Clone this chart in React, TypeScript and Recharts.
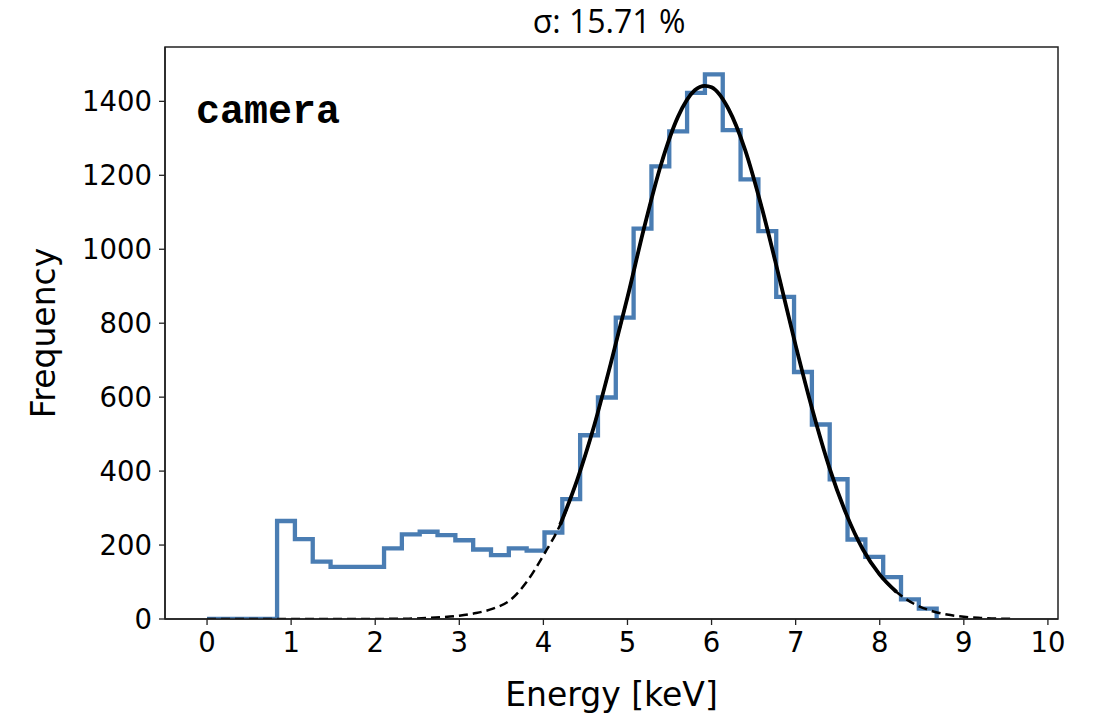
import { ComposedChart, Line, XAxis, YAxis, ReferenceArea } from "recharts";

// histogram: 37 bins starting at 0.833 keV, 0.212 keV wide
const binStart = 0.833;
const binWidth = 0.212;
const binCounts = [
  265, 216, 155, 141, 141, 141, 191, 229, 236, 227, 213, 188, 173, 191, 185,
  234, 324, 497, 599, 815, 1056, 1224, 1319, 1423, 1473, 1322, 1189, 1049,
  871, 668, 526, 378, 215, 168, 113, 53, 28,
];

// gaussian fit
const fitEnergy = [
  0, 0.5, 1.0, 1.5, 2.0, 2.4, 2.8, 3.0, 3.2, 3.4, 3.6, 3.8, 4.0, 4.2, 4.4,
  4.6, 4.8, 5.0, 5.2, 5.4, 5.6, 5.8, 5.92, 6.0, 6.2, 6.4, 6.6, 6.8, 7.0, 7.2,
  7.4, 7.6, 7.8, 8.0, 8.2, 8.4, 8.6, 8.8, 9.0, 9.2, 9.4, 9.6,
];
const fitFreq = [
  0, 0, 0, 0, 0.2, 1, 5, 9, 16, 28, 50, 100, 172, 255, 375, 520, 690, 870,
  1060, 1230, 1358, 1430, 1442, 1438, 1380, 1268, 1110, 928, 740, 565, 410,
  285, 188, 120, 73, 42, 23, 12, 6, 3, 1, 0.5,
];
const solidFrom = 4.2;
const solidTo = 8.2;

const xTicks = [0, 1, 2, 3, 4, 5, 6, 7, 8, 9, 10];
const yTicks = [0, 200, 400, 600, 800, 1000, 1200, 1400];

const histData = [
  { x: 0, y: 0 },
  ...binCounts.map((c, i) => ({ x: binStart + i * binWidth, y: c })),
  { x: binStart + binCounts.length * binWidth, y: 0 },
];
const fitData = fitEnergy.map((e, i) => ({ x: e, y: fitFreq[i] }));
const fitSolid = fitData.filter((d) => d.x >= solidFrom && d.x <= solidTo);

const xDomain = [-0.5, 10.12];
const yDomain = [0, 1547];
const font = "DejaVu Sans";
const spine = "#222";

export default function App() {
  return (
    <div style={{ position: "absolute", left: 0, top: 0, width: 1094, height: 719 }}>
      <ComposedChart
        width={1094}
        height={719}
        margin={{ top: 47, right: 36, bottom: 0, left: 0 }}
      >
        <XAxis
          dataKey="x"
          type="number"
          domain={xDomain}
          ticks={xTicks}
          allowDataOverflow
          height={100}
          tickSize={6}
          tickMargin={7}
          axisLine={{ stroke: spine, strokeWidth: 1.5 }}
          tickLine={{ stroke: spine, strokeWidth: 1.3 }}
          tick={{ fill: "#000", fontSize: 27.5, fontFamily: font }}
          label={{
            value: "Energy [keV]",
            position: "insideBottom",
            offset: 13,
            style: { fill: "#000", fontSize: 33, fontFamily: font },
          }}
        />
        <YAxis
          type="number"
          domain={yDomain}
          ticks={yTicks}
          allowDataOverflow
          width={165}
          tickSize={6}
          tickMargin={7}
          axisLine={{ stroke: spine, strokeWidth: 1.5 }}
          tickLine={{ stroke: spine, strokeWidth: 1.3 }}
          tick={{ fill: "#000", fontSize: 27.5, fontFamily: font }}
          label={{
            value: "Frequency",
            angle: -90,
            position: "insideLeft",
            offset: 43,
            style: { textAnchor: "middle", fill: "#000", fontSize: 33, fontFamily: font },
          }}
        />
        {/* frame around the plot area */}
        <ReferenceArea
          x1={xDomain[0]}
          x2={xDomain[1]}
          y1={yDomain[0]}
          y2={yDomain[1]}
          fill="none"
          fillOpacity={0}
          stroke={spine}
          strokeWidth={1.5}
          strokeOpacity={1}
          ifOverflow="visible"
        />
        <Line
          data={histData}
          dataKey="y"
          type="stepAfter"
          stroke="#4a7db3"
          strokeWidth={4.3}
          dot={false}
          isAnimationActive={false}
        />
        <Line
          data={fitData}
          dataKey="y"
          type="monotone"
          stroke="#000"
          strokeWidth={2.5}
          strokeDasharray="9 5"
          dot={false}
          isAnimationActive={false}
        />
        <Line
          data={fitSolid}
          dataKey="y"
          type="monotone"
          stroke="#000"
          strokeWidth={3.8}
          dot={false}
          isAnimationActive={false}
        />
      </ComposedChart>
      <svg
        width={1094}
        height={719}
        style={{ position: "absolute", left: 0, top: 0, pointerEvents: "none" }}
      >
        <text x={609} y={33} textAnchor="middle" fontFamily="Open Sans" fontSize={32} fill="#000">
          σ: 15.71 %
        </text>
        <text x={196} y={123} fontFamily="Liberation Mono" fontWeight="bold" fontSize={40} fill="#000">
          camera
        </text>
      </svg>
    </div>
  );
}
